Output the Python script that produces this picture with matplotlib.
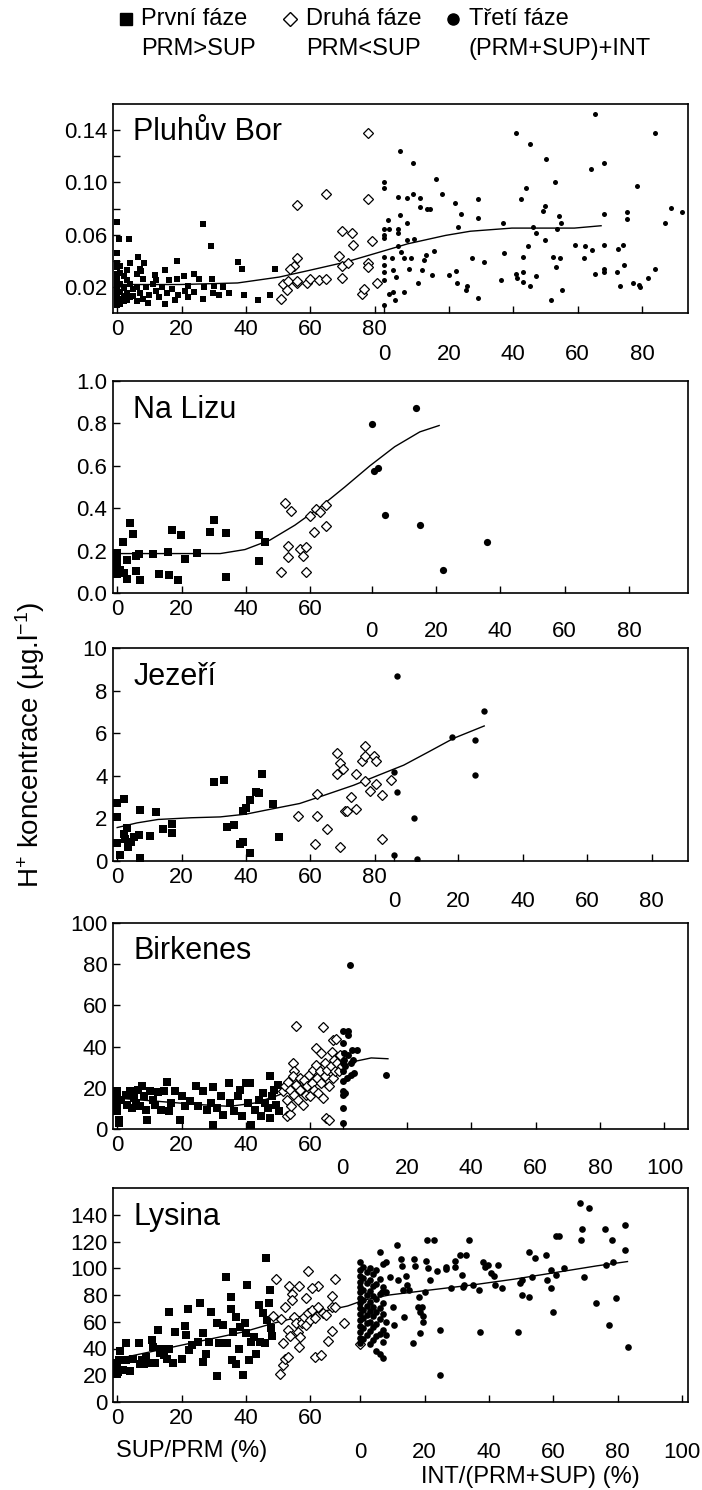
import numpy as np
import matplotlib
matplotlib.use('Agg')
import matplotlib.pyplot as plt

plt.rcParams['font.family'] = ['Liberation Sans', 'DejaVu Sans']
plt.rcParams['mathtext.fontset'] = 'custom'
plt.rcParams['mathtext.rm'] = 'Liberation Sans'
plt.rcParams['mathtext.default'] = 'regular'

# ---------------- data ----------------
# phase 1 / phase 2 points: x = SUP/PRM (%), phase 3 points: x = INT/(PRM+SUP) (%)
# fit curves: x on the joined axis (phase 3 shifted by the panel offset)

pluhuv_p1 = [(0, 0.0695), (0.5, 0.057), (3.6, 0.057), (0, 0.046), (0, 0.038), (0, 0.035), (0, 0.030),
             (0, 0.027), (0, 0.024), (0, 0.021), (0, 0.018), (0, 0.015), (0, 0.012), (0, 0.009), (0, 0.006),
             (1, 0.036), (1, 0.031), (1, 0.022), (1, 0.016), (1, 0.011), (1, 0.007), (2, 0.028), (2, 0.019),
             (2, 0.013), (2, 0.009), (3, 0.025), (3, 0.033), (3, 0.015), (3, 0.010), (4, 0.022), (4, 0.038),
             (4, 0.012), (5, 0.018), (5, 0.013), (6, 0.030), (6, 0.020), (6, 0.009), (6.5, 0.043), (7, 0.034),
             (7, 0.015), (7.5, 0.032), (8, 0.026), (8, 0.011), (8.4, 0.038), (9, 0.020), (9.7, 0.008),
             (10, 0.014), (11, 0.022), (11.6, 0.029), (12, 0.017), (12, 0.025), (13, 0.012), (14, 0.020),
             (14.8, 0.033), (14.8, 0.007), (15.5, 0.015), (16, 0.025), (17, 0.018), (18, 0.0097),
             (18.7, 0.0395), (18.7, 0.026), (19, 0.014), (20.7, 0.028), (21, 0.017), (22, 0.021), (22, 0.012),
             (24, 0.030), (24, 0.016), (25.5, 0.026), (26.5, 0.068), (26.5, 0.011), (27, 0.020), (29, 0.051),
             (29.5, 0.026), (29.8, 0.015), (30, 0.021), (31.7, 0.0135), (33, 0.020), (34.7, 0.015),
             (37.6, 0.039), (38.8, 0.034), (39.5, 0.0135), (43.8, 0.010), (47.6, 0.0135), (48.9, 0.034)]
pluhuv_p2 = [(77.9, 0.138), (55.7, 0.083), (64.8, 0.091), (77.9, 0.087), (69.9, 0.063), (72.9, 0.061),
             (73.1, 0.052), (79.2, 0.055), (68.8, 0.044), (69.9, 0.036), (71.8, 0.038), (77.9, 0.0386),
             (77.9, 0.0355), (55.7, 0.042), (55, 0.036), (53.8, 0.034), (51.6, 0.022), (53.1, 0.0246),
             (52.7, 0.0174), (55.7, 0.0226), (56, 0.0246), (58.9, 0.0226), (59.8, 0.0257), (62.7, 0.025),
             (65, 0.0257), (69.9, 0.0265), (51, 0.0105), (75.9, 0.0148), (76.8, 0.018), (80.8, 0.0226)]
pluhuv_p3 = [(0, 0.100), (0, 0.0956), (0, 0.064), (0, 0.060), (0, 0.0574), (0, 0.043), (0, 0.0368),
             (0, 0.0316), (0, 0.025), (0, 0.0058), (1, 0.071), (1.3, 0.064), (1.3, 0.0148), (2.3, 0.042),
             (2.6, 0.033), (2.6, 0.016), (3.2, 0.0097), (3.5, 0.0272), (4.1, 0.089), (4.1, 0.064),
             (4.1, 0.061), (4.1, 0.0515), (4.9, 0.1237), (4.9, 0.075), (5.2, 0.047), (6.2, 0.042),
             (6.2, 0.016), (7.1, 0.069), (7.1, 0.056), (7.1, 0.088), (7.7, 0.034), (8.4, 0.042), (8.8, 0.115),
             (9, 0.091), (9.3, 0.057), (10.3, 0.0226), (11, 0.088), (11.2, 0.0815), (11.6, 0.033),
             (12.3, 0.0406), (12.9, 0.0445), (13.3, 0.080), (14.2, 0.080), (14.8, 0.029), (15.5, 0.0476),
             (16.1, 0.1026), (18, 0.091), (20, 0.029), (21.9, 0.0845), (22.2, 0.032), (23, 0.066),
             (22.6, 0.023), (23.9, 0.0755), (25.2, 0.0174), (25.8, 0.021), (27.1, 0.042), (29, 0.087),
             (29, 0.073), (29, 0.0117), (31, 0.0394), (36.1, 0.025), (36.8, 0.069), (37.2, 0.046),
             (41, 0.138), (41, 0.030), (41.3, 0.0265), (42.3, 0.087), (43.2, 0.043), (43.2, 0.0316),
             (43.2, 0.024), (44.1, 0.0956), (44.5, 0.0515), (45.2, 0.129), (45.2, 0.0205), (46.2, 0.066),
             (47.1, 0.061), (47.1, 0.028), (49.3, 0.078), (50, 0.082), (50, 0.056), (50.3, 0.118),
             (51.9, 0.0102), (52.3, 0.043), (52.9, 0.100), (53.2, 0.0355), (53.5, 0.0644), (54.2, 0.0742),
             (54.4, 0.042), (54.8, 0.069), (55.2, 0.0179), (59.1, 0.052), (62, 0.042), (62.2, 0.0515),
             (64.3, 0.110), (64.5, 0.0484), (65.4, 0.152), (65.4, 0.030), (68.1, 0.115), (68.1, 0.0755),
             (68.1, 0.052), (68.1, 0.034), (68.1, 0.0316), (72.3, 0.0316), (72.5, 0.049), (73.2, 0.0205),
             (74.2, 0.0517), (74.5, 0.0368), (75.2, 0.077), (75.2, 0.072), (77.2, 0.0226), (78.5, 0.0974),
             (79.1, 0.0213), (79.4, 0.020), (81.9, 0.027), (83.9, 0.034), (83.9, 0.138), (87.1, 0.069),
             (89, 0.0806), (92.3, 0.077)]
pluhuv_fit = [(0, 0.0218), (19.4, 0.0218), (37.4, 0.023), (50.3, 0.0275), (59.6, 0.0326), (71, 0.039),
              (80, 0.0455), (90.3, 0.053), (102, 0.0594), (109.7, 0.0626), (122.6, 0.065), (142, 0.065),
              (150.3, 0.0668)]

lizu_p1 = [(0, 0.19), (0, 0.165), (0, 0.14), (0, 0.118), (0, 0.09), (1, 0.11), (1.9, 0.24), (3, 0.154),
           (3, 0.066), (2, 0.094), (4, 0.33), (4.9, 0.28), (5.9, 0.176), (5.9, 0.102), (6.8, 0.186),
           (7.1, 0.063), (11, 0.184), (12.9, 0.091), (15.9, 0.192), (16, 0.087), (16.9, 0.298), (18.8, 0.063),
           (19.9, 0.272), (21, 0.161), (24.9, 0.189), (28.8, 0.288), (30.1, 0.342), (33.9, 0.283),
           (33.9, 0.074), (43.9, 0.272), (43.9, 0.15), (45.8, 0.24)]
lizu_p2 = [(52, 0.425), (53.9, 0.386), (51, 0.098), (53, 0.22), (53, 0.169), (56.8, 0.208), (57.8, 0.173),
           (58.7, 0.216), (58.7, 0.098), (60, 0.362), (61, 0.287), (61.7, 0.394), (63, 0.383), (64.9, 0.417),
           (64.9, 0.318)]
lizu_p3 = [(0, 0.798), (0.9, 0.575), (1.9, 0.59), (4.1, 0.37), (13.8, 0.874), (15.1, 0.323), (22.2, 0.11),
           (36, 0.239)]
lizu_fit = [(0, 0.186), (19, 0.186), (32, 0.186), (39.7, 0.205), (47.5, 0.25), (55.2, 0.32), (63, 0.405),
            (70.7, 0.50), (78.5, 0.60), (86.2, 0.69), (94, 0.76), (100, 0.79)]

jezeri_p1 = [(0, 2.7), (0, 2.07), (0, 0.85), (1, 0.27), (2, 2.9), (2, 1.29), (2.3, 1.05), (3, 1.55), (3.4, 0.66),
             (4.3, 0.9), (5.3, 1.13), (6.9, 1.21), (7.1, 2.39), (7.1, 0.16), (10.1, 1.16), (12, 2.28),
             (14.2, 1.52), (16.9, 1.76), (16.9, 1.33), (30.1, 3.72), (33.1, 3.8), (34, 1.6), (36.2, 1.71),
             (38.2, 0.82), (39.2, 0.9), (39.2, 2.34), (40.1, 2.5), (41.1, 2.86), (41.1, 0.39), (43.1, 3.25),
             (44.1, 3.17), (45, 4.08), (48.3, 2.67), (50.2, 1.13)]
jezeri_p2 = [(56.3, 2.12), (61.3, 0.82), (62.1, 3.14), (62.1, 2.1), (65.3, 1.49), (68.3, 5.05), (68.3, 4.08),
             (69.2, 4.58), (69.2, 0.66), (70.2, 4.32), (70.9, 2.35), (71.4, 2.35), (72.5, 3.01), (74.3, 4.08),
             (74.3, 2.42), (76.1, 4.71), (77.1, 5.4), (77.1, 4.93), (77.1, 3.75), (78.4, 3.3), (79.9, 4.93),
             (80.3, 4.71), (80.3, 3.6), (82.3, 3.09), (82.3, 1.02), (85.1, 3.8)]
jezeri_p3 = [(0, 4.19), (0, 0.3), (1, 8.67), (1, 3.25), (6.2, 2.04), (7.1, 0.08), (18.1, 5.84), (25.2, 5.68),
             (25.2, 4.03), (27.9, 7.02)]
jezeri_fit = [(0, 1.57), (6.2, 1.79), (12.7, 1.95), (23, 2.03), (32, 2.07), (40, 2.2), (47.6, 2.43),
              (56.7, 2.7), (64.4, 3.09), (73.5, 3.56), (81.2, 4.03), (89, 4.5), (96.8, 5.13), (104.5, 5.76),
              (114, 6.34)]

birkenes_p1 = [(0, 18.3), (0, 15.9), (0, 12.6), (0, 8.6), (0.6, 4.5), (0.6, 2.9), (1.3, 14.2), (2.6, 16.7),
               (3.2, 11.8), (3.9, 18.3), (4.5, 10.2), (5.2, 15), (5.8, 12.6), (6.5, 19.1), (7.1, 11),
               (7.8, 21), (8.4, 16.2), (9.1, 9.4), (9.4, 4.5), (10.1, 18.3), (11, 14.2), (11.6, 11.8),
               (12.7, 17.8), (13.6, 9.4), (14.5, 18.6), (15.5, 22.7), (16.2, 8.6), (16.8, 12.6), (18.1, 18.3),
               (19.4, 4.5), (20.1, 15.9), (21, 11), (22.6, 13.4), (24.6, 21), (25.2, 11), (26.5, 18.6),
               (27.8, 9.4), (29.1, 12.6), (29.8, 20.4), (29.8, 2.1), (31, 10.2), (32.1, 15.9), (33, 7),
               (34.7, 22.3), (34.9, 12.6), (36.2, 8.6), (37.5, 15.9), (38.2, 19.1), (38.8, 6.1), (40.1, 22.3),
               (40.7, 12.6), (41.4, 22.3), (41.7, 2.1), (42.7, 9.4), (44, 14.2), (44.6, 6.1), (45.3, 17.5),
               (45.9, 12.6), (46.8, 10.2), (47.5, 25.9), (47.6, 5.3), (48.1, 15.9), (48.8, 19.1), (49.2, 11.8),
               (49.8, 21.5), (50.2, 8.6)]
birkenes_p2 = [(55.6, 50.2), (63.8, 49.4), (67, 43.4), (67.9, 43.7), (54.6, 32), (55, 28), (61.7, 39.3),
               (63.4, 36.9), (66.6, 37.2), (52.8, 6.5), (53.7, 7.4), (64.9, 5.3), (65.7, 4.5), (51.5, 18.3),
               (52, 20.7), (52.7, 14.2), (53, 22.7), (53.7, 19.1), (54.1, 11), (54.6, 25.6), (55, 16.7),
               (55.6, 21.5), (56.3, 14.2), (56.7, 24.8), (56.9, 19.1), (57.6, 11.8), (57.9, 23.9), (58.6, 16.7),
               (58.9, 20.7), (59.5, 26.4), (59.8, 15.9), (60.5, 22.3), (60.8, 28.8), (61.1, 19.1), (61.7, 31.2),
               (62.1, 24.8), (62.4, 17.5), (63, 28), (63.4, 22.3), (63.8, 15), (64.4, 32), (64.7, 25.6),
               (65.3, 28.8), (65.7, 20.7), (66.3, 30.4), (66.9, 24.8), (67.3, 33.7), (67.5, 28), (68.4, 32),
               (68.9, 28), (69.3, 36.1), (69.7, 30.4)]
birkenes_p3 = [(0, 47.4), (0, 41.7), (0, 32), (0, 28), (0, 23.1), (0, 18.3), (0, 16.7), (0, 10.2), (0, 2.9),
               (0.3, 36.9), (0.6, 33.7), (0.9, 30.4), (0.9, 17.5), (1.3, 24.8), (1.6, 47.4), (1.6, 45.8),
               (1.8, 36.1), (2.2, 79.8), (2.5, 32), (2.5, 26.4), (2.8, 38.5), (3.2, 33.3), (3.5, 27.2),
               (4.5, 38.5), (13.5, 26.4)]
birkenes_fit = [(0, 15), (12.9, 13.4), (25.9, 11.8), (34.9, 11), (42.7, 12.6), (49.2, 15.9), (55.6, 19.9),
                (62.1, 24.8), (68.5, 29.6), (73.7, 32.8), (78.9, 34.5), (84.1, 34.1)]

lysina_p1 = [(0, 21.3), (0, 25), (0, 28.8), (0.6, 31.3), (0.4, 22.5), (0.9, 38.3), (1.7, 23.8), (2.6, 44.3),
             (2.6, 31.3), (3.9, 23.3), (4.8, 32.5), (6.8, 44.3), (7.1, 28.3), (7.7, 31.3), (8.4, 28.3), (9, 33.8),
             (9.9, 29.3), (10.7, 46.3), (11.2, 40.8), (11.6, 28.8), (12.6, 53.8), (13.3, 36.8), (13.5, 40),
             (14.6, 35), (15.5, 32.5), (16.1, 67.5), (16.1, 40), (17.2, 29.3), (18.1, 52.5), (20, 31.8),
             (21, 56.8), (21.3, 50), (21.9, 69.3), (22.3, 38.8), (23.2, 42.5), (25.2, 45), (25.8, 74.3),
             (26.5, 51.3), (26.7, 30), (27.5, 35.8), (28.4, 45), (29, 67.5), (31, 19.3), (31, 58.8),
             (31.6, 43.8), (32.9, 57.5), (33.9, 93.8), (34.2, 44.3), (35.2, 78.3), (35.5, 69.3), (35.8, 31.3),
             (36.1, 52.5), (36.8, 63.8), (37, 28.3), (37.7, 40), (38.1, 56.3), (39.1, 20.5), (39.6, 58.8),
             (40, 51.3), (40.4, 87.5), (40.9, 31.3), (41.7, 45), (42.6, 48.8), (43.2, 35.8), (43.9, 72.5),
             (44.3, 45), (45.2, 66.3), (45.8, 43.8), (46.1, 107.5), (46.5, 61.3), (47.1, 73.8), (47.4, 83.8),
             (47.7, 55), (48.1, 49.3)]
lysina_p2 = [(49.4, 91.8), (53.3, 86.8), (56.5, 86.8), (59.4, 98), (62.3, 86.8), (67.5, 91.8), (54.2, 80.5),
             (58.5, 78), (66.6, 79.3), (60.6, 85), (51, 61.8), (52.1, 71.3), (53, 53.8), (53.7, 49.3),
             (54.2, 76.3), (54.8, 63.8), (55.5, 58.8), (56.1, 52.5), (56.8, 48.8), (57.4, 59.3), (58.1, 63.8),
             (58.7, 57.5), (59.4, 66.3), (60, 61.3), (60.6, 68.8), (61.3, 62.5), (62.3, 71.3), (63.9, 66.8),
             (65, 65), (66.6, 71.3), (66.6, 53.3), (67.6, 71.3), (70.3, 58.8), (50.6, 21.3), (51.6, 27.5),
             (52, 32.5), (53, 33.8), (51.4, 44.3), (56.4, 41.3), (61.3, 33.8), (63.2, 35), (65.4, 45.5),
             (75.5, 43.3), (48.4, 64.3)]
lysina_p3 = [(0, 105), (0, 99), (0, 94), (0, 90), (0, 86), (0, 82), (0, 78), (0, 74), (0, 70), (0, 66),
             (0, 61), (0, 57), (0, 52), (0, 48), (0, 44), (1, 101), (1, 93), (1, 84), (1, 76), (1, 69), (1, 63),
             (1, 55), (1, 47), (2, 97), (2, 89), (2, 80), (2, 72), (2, 65), (2, 59), (2, 50), (3, 100), (3, 91),
             (3, 83), (3, 75), (3, 68), (3, 60), (3, 53), (3, 43), (4, 96), (4, 87), (4, 79), (4, 71), (4, 64),
             (4, 56), (4, 46), (5, 99), (5, 88), (5, 77), (5, 67), (5, 58), (5, 49), (5, 38), (6, 112), (6, 92),
             (6, 81), (6, 70), (6, 62), (6, 51), (6, 36), (7, 103), (7, 86), (7, 74), (7, 66), (7, 54), (7, 33),
             (7, 45), (8, 105), (8, 82), (8, 60), (8, 50),
             (6.8, 82.5), (9.3, 93.8), (10.1, 71.3), (10.6, 57.5), (11.4, 117.5), (11.6, 91.3), (12.6, 106.8),
             (12.9, 101.8), (13.2, 83.8), (13.5, 63.8), (14.2, 94.3), (14.5, 87.5), (15.2, 83.8), (16.5, 44.3),
             (16.8, 106.8), (17, 101.8), (17.8, 71.3), (18.3, 78.3), (18.6, 67.5), (18.7, 51.3), (19.1, 71.3),
             (19.4, 64.3), (19.6, 60), (20, 82.5), (20.4, 105.5), (20.6, 121.3), (21, 100), (21.7, 91.3),
             (23, 121.3), (23.9, 98), (24.8, 20), (24.8, 53.8), (26.6, 99.3), (26.6, 101), (28.1, 85.5),
             (29.4, 105.5), (29.4, 101), (31, 110), (31.6, 95), (32, 85.8), (32.3, 87.5), (32.9, 110),
             (33.9, 121.3), (35.1, 87.5), (36.8, 83.8), (37.2, 52.5), (38.1, 105), (38.7, 101), (39.7, 102.5),
             (40.6, 96.3), (41.5, 94.3), (41.9, 87.5), (42.8, 102.5), (43.9, 85), (49.7, 88.8), (50.1, 91.3),
             (50.1, 80), (49, 52.5), (52.3, 112.5), (52.3, 78.8), (53.2, 93.8), (54.2, 107.5), (57.8, 110),
             (58.1, 91.3), (59.1, 98.8), (59.4, 85), (60, 67.5), (60.9, 123.8), (60.9, 95), (61.7, 123.8),
             (63.2, 100), (68.4, 148.8), (68.6, 121.3), (69, 129.3), (69.4, 93.8), (71.2, 145), (73.2, 74.3),
             (76.1, 129.3), (76.3, 102.5), (77.4, 57.5), (78.1, 121.3), (78.5, 105), (79.4, 77.5),
             (82.3, 132.5), (82.3, 113.3), (83.2, 40.8)]
lysina_fit = [(0.6, 32.5), (20, 42.5), (39.4, 52.5), (48.4, 58.8), (58.7, 65), (71.6, 71.8), (76.8, 76.3),
              (84.5, 80), (97.4, 83.8), (110.3, 87.5), (123.2, 91.8), (136.1, 96.8), (149, 101.8), (158.5, 105)]

site_names = ['Pluhův Bor', 'Na Lizu', 'Jezeří', 'Birkenes', 'Lysina']
int_offsets = [83, 79, 86, 70, 75.5]          # where INT = 0 sits on the SUP/PRM scale
sup_tick_labels = [[0, 20, 40, 60, 80], [0, 20, 40, 60], [0, 20, 40, 60, 80], [0, 20, 40, 60], [0, 20, 40, 60]]
int_tick_labels = [[0, 20, 40, 60, 80], [0, 20, 40, 60, 80], [0, 20, 40, 60, 80],
                   [0, 20, 40, 60, 80, 100], [0, 20, 40, 60, 80, 100]]
y_tick_values = [[0.02, 0.06, 0.10, 0.14], [0.0, 0.2, 0.4, 0.6, 0.8, 1.0], [0, 2, 4, 6, 8, 10],
                 [0, 20, 40, 60, 80, 100], [0, 20, 40, 60, 80, 100, 120, 140]]
y_tick_text = [['0.02', '0.06', '0.10', '0.14'], ['0.0', '0.2', '0.4', '0.6', '0.8', '1.0'],
               ['0', '2', '4', '6', '8', '10'], ['0', '20', '40', '60', '80', '100'],
               ['0', '20', '40', '60', '80', '100', '120', '140']]
y_limits = [(0, 0.16), (0, 1.0), (0, 10), (0, 100), (0, 160)]

phase1 = [pluhuv_p1, lizu_p1, jezeri_p1, birkenes_p1, lysina_p1]
phase2 = [pluhuv_p2, lizu_p2, jezeri_p2, birkenes_p2, lysina_p2]
phase3 = [pluhuv_p3, lizu_p3, jezeri_p3, birkenes_p3, lysina_p3]
fits = [pluhuv_fit, lizu_fit, jezeri_fit, birkenes_fit, lysina_fit]

# ---------------- layout (pixels of the 702 x 1490 output) ----------------
W, H = 702, 1490
box_left, box_right = 113, 688
box_rows = [(104, 313), (381, 593), (648, 861), (923, 1129), (1188, 1402)]
marker_sizes = [(5.0, 4.6, 3.6), (6.0, 5.6, 5.2), (6.0, 5.6, 4.6), (6.0, 5.2, 5.0), (6.0, 5.2, 4.8)]
second_row_px = [42, 38, 40, 40, 50]

fig = plt.figure(figsize=(W / 100, H / 100), dpi=100)
px = 72 / 100  # points per pixel

for i in range(5):
    top, bottom = box_rows[i]
    ax = fig.add_axes([box_left / W, 1 - bottom / H, (box_right - box_left) / W, (bottom - top) / H])
    off = int_offsets[i]
    sq, di, dot = marker_sizes[i]

    x1, y1 = np.array(phase1[i]).T
    x2, y2 = np.array(phase2[i]).T
    x3, y3 = np.array(phase3[i]).T
    fx, fy = np.array(fits[i]).T

    ax.plot(fx, fy, color='black', lw=1.0, zorder=2)
    ax.plot(x1, y1, 's', ms=sq, color='black', mec='black', mew=0, ls='none', zorder=3)
    ax.plot(x2, y2, 'D', ms=di, mfc='white', mec='black', mew=0.9, ls='none', zorder=4)
    ax.plot(x3 + off, y3, 'o', ms=dot, color='black', mew=0, ls='none', zorder=5)

    ax.set_xlim(-1.3, 177.3)
    ax.set_ylim(*y_limits[i])

    ax.set_xticks(sup_tick_labels[i])
    ax.set_xticklabels([str(v) for v in sup_tick_labels[i]])
    ax.set_xticks([off + v for v in int_tick_labels[i]], minor=True)
    ax.set_yticks(y_tick_values[i])
    ax.set_yticklabels(y_tick_text[i])
    if i == 0:
        ax.set_yticks([0.04, 0.08, 0.12], minor=True)
    else:
        ax.set_yticks([], minor=True)

    ax.tick_params(which='both', direction='in', length=5, width=1.0, top=False, right=False,
                   labelsize=16, pad=4)
    for s in ax.spines.values():
        s.set_linewidth(1.2)

    for v in int_tick_labels[i]:
        ax.annotate(str(v), xy=(off + v, 0), xycoords=('data', 'axes fraction'),
                    xytext=(0, -second_row_px[i] * px), textcoords='offset points',
                    ha='center', va='center', fontsize=16)

    ax.text(0.035, 0.865, site_names[i], transform=ax.transAxes, ha='left', va='center', fontsize=22)

# axis titles
fig.text(30 / W, 1 - 745 / H, r'H$^{+}$ koncentrace (µg.l$^{-1}$)', rotation=90,
         ha='center', va='center', fontsize=20)
fig.text(192 / W, 1 - 1451 / H, 'SUP/PRM (%)', ha='center', va='center', fontsize=17)
fig.text(530 / W, 1 - 1477 / H, 'INT/(PRM+SUP) (%)', ha='center', va='center', fontsize=17)

# legend drawn in pixel coordinates on an overlay
lg = fig.add_axes([0, 0, 1, 1], facecolor='none')
lg.set_xlim(0, W)
lg.set_ylim(H, 0)
lg.axis('off')
lg.plot([126], [19], 's', ms=8, color='black')
lg.plot([290], [19], 'D', ms=7.5, mfc='white', mec='black', mew=1.0)
lg.plot([453], [19], 'o', ms=8, color='black')
for x, t1, t2 in [(141, 'První fáze', 'PRM>SUP'), (306, 'Druhá fáze', 'PRM<SUP'),
                  (469, 'Třetí fáze', '(PRM+SUP)+INT')]:
    lg.text(x, 19, t1, ha='left', va='center', fontsize=17)
    lg.text(x, 49, t2, ha='left', va='center', fontsize=17)

fig.savefig('out.png', dpi=100)
